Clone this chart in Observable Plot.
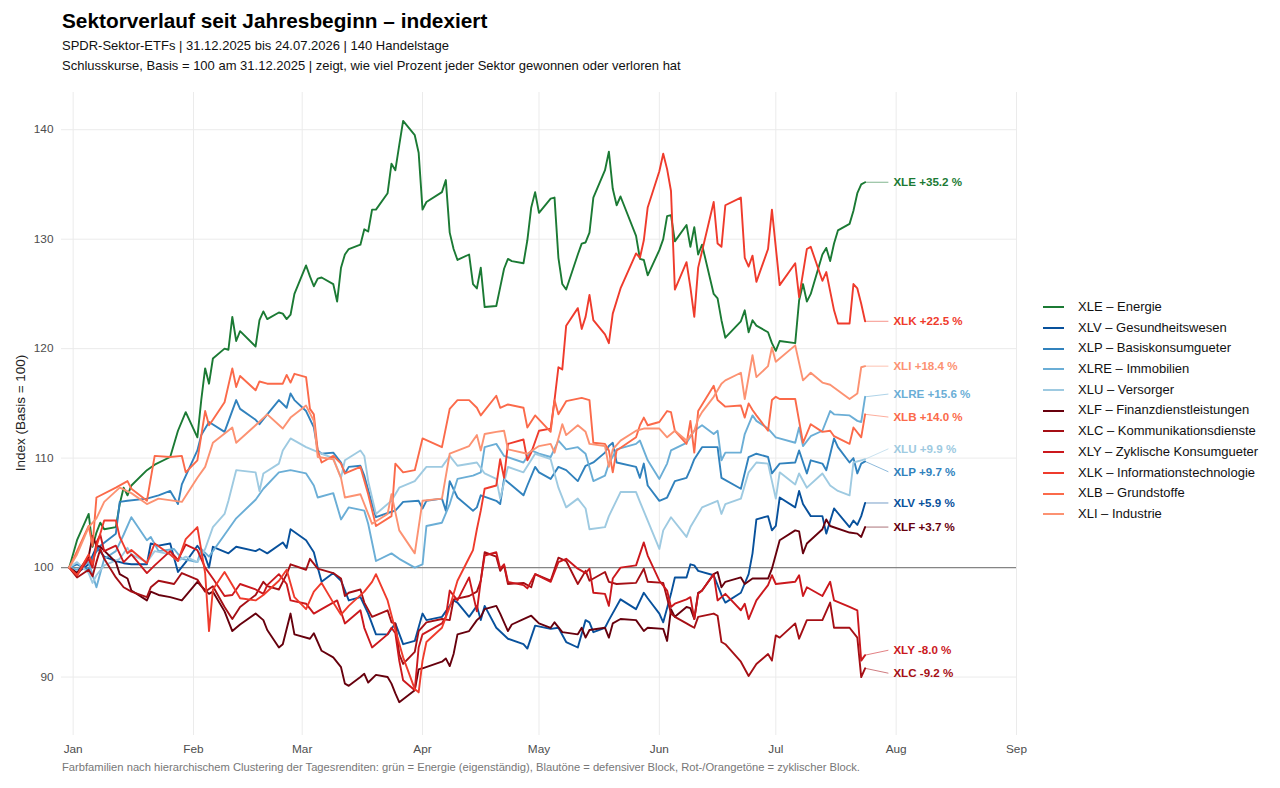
<!DOCTYPE html>
<html><head><meta charset="utf-8">
<script src="https://cdn.jsdelivr.net/npm/d3@7"></script>
<script src="https://cdn.jsdelivr.net/npm/@observablehq/plot@0.6"></script>
<style>
body{margin:0;background:#fff;font-family:"Liberation Sans",Arial,Helvetica,sans-serif;color:#111;}
#wrap{position:relative;width:1280px;height:788px;overflow:hidden;}
#title{position:absolute;left:62px;top:8px;font-size:20.8px;line-height:25px;font-weight:bold;color:#000;white-space:nowrap;}
#sub{position:absolute;left:62px;top:36px;font-size:13px;line-height:20px;color:#111;white-space:nowrap;}
#chart{position:absolute;left:0;top:80px;}
#ylab{position:absolute;left:20px;top:413px;transform:translate(-50%,-50%) rotate(-90deg);font-size:13.5px;color:#222;white-space:nowrap;}
#legend{position:absolute;left:1043px;top:297px;font-size:13px;color:#111;}
#legend .row{height:20.7px;line-height:20.7px;white-space:nowrap;display:flex;align-items:center;}
#legend .sw{display:inline-block;width:21px;height:0;border-top:2px solid;margin-right:14px;}
#caption{position:absolute;left:62px;top:761px;font-size:11.2px;color:#777;white-space:nowrap;}
</style></head>
<body><div id="wrap">
<div id="title">Sektorverlauf seit Jahresbeginn – indexiert</div>
<div id="sub">SPDR-Sektor-ETFs | 31.12.2025 bis 24.07.2026 | 140 Handelstage<br>Schlusskurse, Basis = 100 am 31.12.2025 | zeigt, wie viel Prozent jeder Sektor gewonnen oder verloren hat</div>
<div id="chart"></div>
<div id="ylab">Index (Basis = 100)</div>
<div id="legend"></div>
<div id="caption">Farbfamilien nach hierarchischem Clustering der Tagesrenditen: grün = Energie (eigenständig), Blautöne = defensiver Block, Rot-/Orangetöne = zyklischer Block.</div>
</div>
<script>
const tickers = ["XLE","XLV","XLP","XLRE","XLU","XLF","XLC","XLY","XLK","XLB","XLI"];
const names = ["Energie","Gesundheitswesen","Basiskonsumgueter","Immobilien","Versorger","Finanzdienstleistungen","Kommunikationsdienste","Zyklische Konsumgueter","Informationstechnologie","Grundstoffe","Industrie"];
const colors = ["#1b7a34","#08519c","#3182bd","#6baed6","#9ecae1","#67000d","#a50f15","#cb181d","#ef3b2c","#fb6a4a","#fc9272"];
const yTicks = [90,100,110,120,130,140];

const XLE = [["12-31",100],["01-02",102.5],["01-05",104.9],["01-06",101.9],["01-07",103.2],["01-08",104.1],["01-09",103.5],["01-12",103.7],["01-13",105.8],["01-14",107.3],["01-15",106.6],["01-16",107.5],["01-20",108.9],["01-22",109.4],["01-26",110.1],["01-28",112.5],["01-30",114.2],["02-02",111.9],["02-03",115.3],["02-04",118.2],["02-05",116.8],["02-06",119.1],["02-09",120],["02-10",119.9],["02-11",122.9],["02-12",120.7],["02-13",121.6],["02-17",120.2],["02-18",122.6],["02-19",123.4],["02-20",122.7],["02-23",123.3],["02-24",123.2],["02-25",122.7],["02-26",123.1],["02-27",125],["03-02",127.6],["03-03",126.6],["03-04",125.7],["03-05",126.4],["03-06",126.5],["03-09",125.9],["03-10",124.3],["03-11",127.4],["03-12",128.6],["03-13",129.1],["03-16",129.5],["03-17",130.9],["03-18",130.7],["03-19",132.7],["03-20",132.7],["03-23",134.2],["03-24",136.9],["03-25",136.3],["03-26",138.6],["03-27",140.8],["03-30",139.5],["03-31",137.9],["04-01",132.7],["04-02",133.4],["04-06",134.3],["04-07",135.4],["04-08",130.6],["04-09",129.1],["04-10",128.1],["04-13",128.6],["04-14",125.9],["04-15",125.5],["04-16",127.4],["04-17",123.8],["04-20",123.9],["04-21",125.6],["04-22",127.3],["04-23",128.2],["04-24",128],["04-27",127.8],["04-28",129.9],["04-29",132.9],["04-30",134.3],["05-01",132.4],["05-04",133.7],["05-05",133.8],["05-06",128.3],["05-07",125.9],["05-08",125.4],["05-11",128.6],["05-12",129.6],["05-13",129.7],["05-14",130.6],["05-15",133.8],["05-18",136.3],["05-19",138],["05-20",134.6],["05-21",133.1],["05-22",133.9],["05-26",130.3],["05-27",128.2],["05-28",128.1],["05-29",126.7],["06-01",129],["06-02",130],["06-03",132.1],["06-04",132.2],["06-05",129.8],["06-08",131.3],["06-09",129.3],["06-10",131.1],["06-11",128.6],["06-12",129.5],["06-15",125],["06-16",124.6],["06-17",122.6],["06-18",121],["06-22",122.5],["06-23",123.5],["06-24",121.5],["06-25",122.6],["06-26",122.1],["06-29",121.5],["06-30",120.5],["07-01",119.8],["07-02",120.7],["07-06",120.5],["07-07",124.4],["07-08",125.9],["07-09",124.3],["07-10",125],["07-13",128.6],["07-14",129.2],["07-15",128],["07-16",129.6],["07-17",130.8],["07-20",131.4],["07-21",132.6],["07-22",134.2],["07-23",135],["07-24",135.2]];

const XLV = [["12-31",100],["01-02",99.5],["01-05",100.3],["01-07",101.9],["01-09",101],["01-12",100.6],["01-14",100.4],["01-16",100.3],["01-20",100.3],["01-21",102.2],["01-23",102],["01-26",102.2],["01-28",99.6],["01-30",100.5],["02-02",102],["02-04",101],["02-05",100],["02-06",101.9],["02-10",101.3],["02-12",101.9],["02-17",101.5],["02-18",101.7],["02-20",101.3],["02-24",102.3],["02-25",101.8],["02-26",103.5],["03-02",102.5],["03-04",101.4],["03-05",100],["03-06",98.7],["03-09",99.5],["03-11",98.8],["03-13",97],["03-16",97.3],["03-18",95.8],["03-20",93.9],["03-23",93.9],["03-25",94.9],["03-27",93],["03-30",93.3],["04-01",95.8],["04-02",95.2],["04-06",95.5],["04-09",97],["04-10",96.8],["04-13",95.5],["04-15",96.5],["04-16",95.2],["04-17",96.5],["04-20",94.5],["04-23",93.5],["04-27",93],["04-28",92.6],["04-30",94.7],["05-04",94.4],["05-06",94.5],["05-08",93.2],["05-11",92.7],["05-13",95.2],["05-14",95],["05-15",94.1],["05-18",94.5],["05-19",95.2],["05-22",97.1],["05-26",96.2],["05-28",97.7],["05-29",97.2],["06-01",95.8],["06-02",95],["06-04",97.6],["06-05",99.1],["06-08",99.1],["06-09",100.3],["06-10",100.2],["06-11",99.7],["06-15",99.3],["06-17",97.5],["06-18",96.8],["06-22",97.7],["06-24",99.4],["06-25",101.3],["06-26",104.4],["06-29",104.7],["06-30",103.4],["07-01",103.8],["07-02",106.4],["07-06",105.5],["07-07",107],["07-08",105.8],["07-10",104.7],["07-13",104.7],["07-14",103.1],["07-16",105.4],["07-20",103.7],["07-21",104.3],["07-22",103.9],["07-23",104.7],["07-24",105.9]];

const XLP = [["12-31",100],["01-02",100.3],["01-05",99.8],["01-06",100.9],["01-08",102],["01-12",103.1],["01-13",106],["01-15",106.1],["01-20",106.3],["01-23",106.6],["01-26",107],["01-28",105.8],["01-29",107.6],["02-02",110.7],["02-03",112.1],["02-05",113.3],["02-09",112.4],["02-12",115.3],["02-13",114.5],["02-17",113.5],["02-18",113.1],["02-20",114],["02-23",115.3],["02-25",114.6],["02-26",115.9],["02-27",115.3],["03-02",114.3],["03-04",112.8],["03-05",110.7],["03-06",110.4],["03-09",110.5],["03-11",109.6],["03-12",108.6],["03-13",109.2],["03-16",109.3],["03-17",108.4],["03-19",105.8],["03-20",104.6],["03-24",105.1],["03-25",105.2],["03-27",106],["03-31",106.1],["04-01",105.4],["04-02",106.1],["04-06",106.3],["04-07",105.2],["04-08",107.9],["04-10",106.4],["04-14",105.2],["04-15",105.5],["04-16",106.6],["04-20",106.1],["04-21",105.8],["04-22",108.1],["04-27",106.6],["04-28",107.5],["04-30",109.2],["05-01",108.7],["05-04",108.1],["05-06",109.2],["05-08",108.9],["05-11",107.9],["05-13",109.3],["05-15",109.6],["05-18",110.5],["05-19",111.1],["05-20",111.4],["05-21",109.6],["05-26",109.2],["05-27",108.2],["05-28",109.5],["05-29",107.5],["06-01",106.1],["06-03",106.4],["06-05",107.9],["06-08",108.2],["06-09",109],["06-10",109.9],["06-12",111],["06-16",111],["06-17",108.2],["06-22",107.2],["06-24",110.1],["06-26",110.4],["06-29",110.1],["06-30",108.6],["07-02",109.5],["07-06",109.6],["07-07",110.7],["07-09",108.6],["07-10",109.8],["07-13",109.5],["07-14",108.9],["07-16",111.8],["07-17",111],["07-20",109.6],["07-21",110],["07-22",108.6],["07-23",109.5],["07-24",109.7]];

const XLRE = [["12-31",100],["01-02",99.8],["01-05",100.5],["01-07",98.2],["01-09",100.8],["01-12",101.5],["01-14",103],["01-16",104.6],["01-20",102.5],["01-21",102.8],["01-23",101.5],["01-27",101.7],["01-29",100.8],["02-02",100.5],["02-03",101.7],["02-05",101],["02-09",103],["02-12",104.5],["02-17",106.2],["02-19",107.2],["02-23",108.7],["02-26",108.9],["03-02",108.6],["03-04",107.5],["03-05",106.4],["03-09",106.8],["03-11",104.4],["03-13",105.5],["03-17",105.2],["03-18",104],["03-20",100.6],["03-24",101.3],["03-26",100.8],["03-30",100],["04-01",100.3],["04-02",103.8],["04-06",104.1],["04-08",105.8],["04-10",108.1],["04-14",108.4],["04-16",108.7],["04-17",111],["04-20",111.3],["04-22",110.2],["04-27",109.6],["04-29",110.7],["05-01",110.4],["05-04",110.1],["05-06",111.6],["05-08",110.8],["05-11",111],["05-13",110.4],["05-15",107.9],["05-18",108.4],["05-19",109.5],["05-21",110.8],["05-26",111.3],["05-27",111.6],["05-29",109.8],["06-01",108.1],["06-03",109.5],["06-04",110.7],["06-08",111.4],["06-10",112.5],["06-12",113],["06-15",112.2],["06-16",112.5],["06-17",109.8],["06-18",110.5],["06-22",110.5],["06-23",112.2],["06-25",113.9],["06-26",113.4],["06-29",112.7],["07-01",111.9],["07-06",111.4],["07-07",112.8],["07-08",111.1],["07-10",112],["07-13",112.5],["07-15",114.3],["07-16",114],["07-20",113.9],["07-22",113.4],["07-23",113.3],["07-24",115.6]];

const XLU = [["12-31",100],["01-02",100.5],["01-05",99.5],["01-06",98.6],["01-07",99.3],["01-09",100.2],["01-13",100.8],["01-15",101.8],["01-16",101.2],["01-20",100.5],["01-22",101.5],["01-26",101.2],["01-28",100.6],["01-30",101],["02-02",100.5],["02-04",101.7],["02-06",103.7],["02-09",104.9],["02-10",106.1],["02-12",108.9],["02-17",108.7],["02-18",107],["02-19",108.6],["02-23",109.5],["02-24",110.7],["02-26",111.8],["03-02",111],["03-04",110.7],["03-06",110.4],["03-09",110],["03-11",108.2],["03-12",109.8],["03-16",110.7],["03-17",110.2],["03-18",107.9],["03-20",104.9],["03-24",106.1],["03-26",107.3],["03-30",107.9],["04-02",109.2],["04-06",109.2],["04-08",110.2],["04-10",109.3],["04-15",109.6],["04-17",108.6],["04-20",108.1],["04-21",106.3],["04-23",109.2],["04-27",108.7],["04-30",110.4],["05-04",109.9],["05-06",107.3],["05-08",105.5],["05-11",106.3],["05-13",105.4],["05-14",103.5],["05-18",103.7],["05-19",104.7],["05-22",106.9],["05-26",106.9],["05-27",106],["05-29",104.3],["06-01",101.7],["06-02",103.4],["06-04",104.6],["06-08",102.8],["06-09",103.7],["06-12",105.5],["06-16",106.1],["06-17",104.9],["06-18",105.8],["06-22",106.3],["06-24",108.7],["06-26",109.6],["06-29",109.5],["07-01",106.3],["07-02",108.7],["07-06",107.6],["07-07",108.6],["07-09",107.3],["07-13",108.6],["07-15",107.5],["07-17",107],["07-20",106.6],["07-21",109.6],["07-23",109.8],["07-24",109.9]];

const XLF = [["12-31",100],["01-02",99.5],["01-05",101],["01-06",102.9],["01-07",102],["01-08",101.9],["01-12",100.5],["01-13",99.4],["01-15",99],["01-16",97.9],["01-20",97],["01-21",97.8],["01-23",97.5],["01-26",97.3],["01-29",97],["02-02",98.7],["02-03",98.3],["02-05",97.6],["02-06",97.8],["02-09",96],["02-11",94.2],["02-13",94.8],["02-17",95.8],["02-19",95.2],["02-20",94.3],["02-23",92.7],["02-24",93],["02-26",95.8],["02-27",93.9],["03-03",93.5],["03-04",94],["03-06",92.4],["03-09",91.8],["03-11",90.9],["03-12",89.4],["03-13",89.2],["03-16",90],["03-17",90.3],["03-18",89.5],["03-20",90.2],["03-23",90],["03-24",89.4],["03-25",88.5],["03-26",87.7],["03-30",88.8],["03-31",90.7],["04-01",90.8],["04-06",91.4],["04-07",91.7],["04-08",91],["04-09",92.1],["04-10",93.9],["04-13",94.2],["04-15",95.2],["04-16",95.5],["04-17",96.2],["04-20",96.5],["04-21",95.8],["04-23",94.2],["04-24",94.8],["04-27",95.3],["04-29",95.6],["05-01",94.9],["05-04",94.5],["05-05",95],["05-07",94.1],["05-11",93.9],["05-12",94.5],["05-13",93.6],["05-14",94.3],["05-18",94.5],["05-19",93.6],["05-20",94.9],["05-22",95.3],["05-26",95.2],["05-28",94.2],["05-29",94.5],["06-02",94.4],["06-03",93.3],["06-04",96.2],["06-05",95.5],["06-08",96.4],["06-09",96.3],["06-10",95.3],["06-11",97.7],["06-12",97.9],["06-15",99.4],["06-16",99.6],["06-17",98.2],["06-18",98.7],["06-22",99.1],["06-23",98.5],["06-25",99],["06-29",99],["06-30",99.9],["07-02",102.5],["07-06",103.4],["07-07",103.3],["07-08",101.3],["07-09",102.2],["07-13",103.5],["07-14",104.4],["07-15",103.8],["07-20",103.2],["07-22",103.1],["07-23",102.8],["07-24",103.7]];

const XLC = [["12-31",100],["01-02",99.1],["01-05",99.8],["01-06",99.2],["01-07",100.5],["01-08",101.7],["01-09",100.8],["01-12",99.1],["01-14",98.2],["01-16",97.8],["01-20",97.3],["01-21",98.2],["01-23",98.8],["01-27",98.5],["01-29",99.5],["02-02",98.9],["02-04",97.8],["02-06",98.3],["02-09",96.4],["02-11",95.3],["02-13",96.4],["02-17",97.5],["02-19",98.7],["02-20",98.3],["02-23",98],["02-25",99.4],["02-26",100.3],["03-02",99.8],["03-03",100.8],["03-05",99.9],["03-09",99.5],["03-11",99],["03-12",97.4],["03-13",97.7],["03-16",98],["03-17",96.8],["03-19",95.5],["03-23",96.1],["03-24",95],["03-25",94.9],["03-26",92.1],["03-27",91.2],["03-30",92.3],["03-31",94.2],["04-02",95],["04-06",95.3],["04-08",95.2],["04-09",97.1],["04-13",97.4],["04-15",97.8],["04-16",98.8],["04-17",101.4],["04-20",101],["04-21",99.7],["04-22",100.2],["04-23",98.5],["04-27",98.6],["04-29",98.2],["04-30",99.4],["05-04",98.8],["05-06",100.9],["05-08",100.6],["05-11",98.5],["05-13",99.7],["05-14",98.8],["05-18",99.6],["05-19",98.7],["05-21",98.5],["05-26",98.6],["05-28",99.9],["05-29",98.7],["06-02",98.6],["06-04",95.8],["06-05",95.5],["06-08",94.9],["06-09",94.7],["06-10",94.5],["06-11",95.5],["06-15",95.8],["06-16",95.6],["06-17",93.2],["06-18",93],["06-22",91.4],["06-24",90.1],["06-26",91.2],["06-29",92.1],["06-30",91.5],["07-01",93.8],["07-02",93.6],["07-06",94.9],["07-07",93.5],["07-09",95.2],["07-13",95.2],["07-15",96.8],["07-16",94.5],["07-20",94.5],["07-22",93.6],["07-23",90],["07-24",90.8]];

const XLY = [["12-31",100],["01-02",99.3],["01-05",100.8],["01-06",100],["01-07",102.3],["01-08",103],["01-09",101.5],["01-12",102],["01-14",100.5],["01-16",101.2],["01-20",99.5],["01-22",100.2],["01-26",101.5],["01-28",100.7],["01-30",102.1],["02-02",101.6],["02-04",100],["02-06",99],["02-09",97.4],["02-11",97.5],["02-13",98.5],["02-17",98],["02-19",97.6],["02-20",98.4],["02-23",99.4],["02-25",98.5],["02-26",97],["03-02",96.7],["03-04",95.8],["03-06",96.2],["03-10",97],["03-12",94.9],["03-16",96.1],["03-17",94.5],["03-19",92.7],["03-23",93.9],["03-24",94.5],["03-25",94],["03-26",91.5],["03-27",89.7],["03-30",88.8],["03-31",92.7],["04-01",93.9],["04-06",94.9],["04-07",95.5],["04-08",97.9],["04-10",97],["04-13",99.1],["04-15",96],["04-16",98.8],["04-17",101.1],["04-20",101.4],["04-21",99.9],["04-22",100.3],["04-23",98.7],["04-27",98.4],["04-28",98.1],["04-30",99.4],["05-04",98.7],["05-06",100.5],["05-08",100.8],["05-11",99.9],["05-13",99.5],["05-14",99.9],["05-15",97.7],["05-18",97.6],["05-19",96.5],["05-20",99],["05-22",100],["05-26",100.2],["05-28",102.3],["05-29",101.1],["06-01",98.8],["06-03",97.9],["06-04",96.4],["06-05",96.7],["06-08",97.1],["06-09",97.3],["06-10",95.3],["06-11",97.6],["06-12",97.9],["06-15",99.4],["06-16",97],["06-18",97.6],["06-22",96.1],["06-23",96.7],["06-24",95.3],["06-26",97],["06-29",98.4],["06-30",99.3],["07-01",98.5],["07-06",98.7],["07-07",99.3],["07-08",97.4],["07-09",98.2],["07-13",97.4],["07-15",98.7],["07-16",97],["07-20",96.4],["07-22",96.1],["07-23",91.5],["07-24",92]];

const XLK = [["12-31",100],["01-02",99.3],["01-05",101.2],["01-06",100.3],["01-07",101.9],["01-09",104.3],["01-12",104.3],["01-13",102.8],["01-15",101.3],["01-16",101.6],["01-20",100.4],["01-22",102.2],["01-26",101.2],["01-28",100.6],["01-30",102.6],["02-02",103.7],["02-04",99.5],["02-05",94.2],["02-06",98],["02-09",99.6],["02-11",98.4],["02-13",97.2],["02-17",97],["02-19",97.5],["02-23",98.8],["02-25",99.8],["02-27",97.3],["03-02",96.2],["03-04",97.8],["03-06",98.6],["03-09",96.8],["03-11",95.7],["03-13",96.5],["03-17",97.8],["03-19",98.7],["03-20",99.4],["03-23",97],["03-25",94.3],["03-27",91.8],["03-30",88.9],["03-31",88.6],["04-01",91.5],["04-02",93.2],["04-06",94.5],["04-08",96.4],["04-10",98.8],["04-13",100.9],["04-14",101.6],["04-15",103.5],["04-16",105.2],["04-17",107.2],["04-20",107.5],["04-21",109.9],["04-22",108.2],["04-23",111.3],["04-27",111.7],["04-28",109.8],["04-29",110.5],["05-01",112.5],["05-04",112.7],["05-05",115.3],["05-06",118.3],["05-07",118.1],["05-08",122.1],["05-11",123.7],["05-12",121.8],["05-13",122.9],["05-14",124.9],["05-15",122.6],["05-18",121.3],["05-19",120.5],["05-20",123.2],["05-22",125.5],["05-26",128.7],["05-27",128.3],["05-28",129.9],["05-29",132.9],["06-01",136.2],["06-02",137.8],["06-03",136.4],["06-04",134.4],["06-05",125.4],["06-08",127.9],["06-09",125.6],["06-10",122.9],["06-11",127.4],["06-15",133.4],["06-16",129.6],["06-17",129.3],["06-18",133.1],["06-22",133.8],["06-23",128.3],["06-24",127.5],["06-25",128.5],["06-26",126.1],["06-29",129.1],["06-30",132.7],["07-02",125.8],["07-06",127.8],["07-07",124.7],["07-09",129.1],["07-10",129.3],["07-13",126.2],["07-14",127],["07-16",123.5],["07-17",122.3],["07-20",122.3],["07-21",125.9],["07-22",125.5],["07-23",124.1],["07-24",122.5]];

const XLB = [["12-31",100],["01-02",101.5],["01-05",103.8],["01-06",102],["01-07",106.4],["01-12",107.3],["01-15",107.9],["01-16",107.2],["01-20",106.1],["01-22",110.2],["01-26",110.1],["01-29",110.2],["01-30",108.7],["02-02",109.8],["02-04",114.3],["02-05",113],["02-06",113.5],["02-09",115.1],["02-11",118.2],["02-12",116.5],["02-13",117.5],["02-17",116.2],["02-18",117],["02-20",116.8],["02-24",116.8],["02-25",117.6],["02-26",116.9],["02-27",117.7],["03-02",117.4],["03-03",114.5],["03-04",114],["03-05",110.7],["03-06",109.6],["03-09",110.2],["03-11",109.5],["03-12",108.6],["03-16",109.2],["03-18",106.7],["03-20",103.8],["03-24",104.7],["03-25",109.5],["03-27",108.7],["03-30",108.9],["04-01",111.8],["04-06",111],["04-08",114.5],["04-10",115.3],["04-13",115.3],["04-15",114.6],["04-16",113.9],["04-20",115.7],["04-21",114.6],["04-23",114.9],["04-27",114.6],["04-28",112.8],["04-30",113.9],["05-04",112.4],["05-05",115.3],["05-06",114],["05-08",115.2],["05-12",115.5],["05-14",115.3],["05-15",111.4],["05-18",111.3],["05-19",110.7],["05-20",108.7],["05-21",110.7],["05-26",111.9],["05-27",113],["05-28",113.7],["05-29",113],["06-01",113.3],["06-03",114.3],["06-04",114.2],["06-05",112.5],["06-08",111.3],["06-09",113.4],["06-10",110.5],["06-11",114.3],["06-15",116.6],["06-16",115.3],["06-18",114.7],["06-22",114.8],["06-23",113.7],["06-24",115],["06-25",114.4],["06-26",113.9],["06-29",112.5],["06-30",115.3],["07-01",115.6],["07-02",115.4],["07-06",115.4],["07-07",113.4],["07-08",111.4],["07-10",113.1],["07-13",112.4],["07-15",112.5],["07-16",112],["07-20",111.3],["07-21",112.8],["07-23",111.9],["07-24",114]];

const XLI = [["12-31",100],["01-02",101.2],["01-05",103.7],["01-07",104.5],["01-09",106],["01-13",107.3],["01-16",106.8],["01-20",105.8],["01-23",106.3],["01-29",106],["02-02",108.2],["02-04",109.2],["02-06",111.4],["02-11",112.8],["02-12",111.4],["02-17",113],["02-20",114],["02-24",112.7],["02-26",113.7],["03-02",114.8],["03-04",113.4],["03-05",110.1],["03-09",109.9],["03-11",108.2],["03-12",106.4],["03-16",106.7],["03-19",104],["03-23",104.9],["03-24",106.7],["03-26",103.4],["03-30",101.3],["04-01",106.1],["04-06",106.3],["04-08",110.4],["04-13",111.1],["04-15",112.1],["04-16",110.7],["04-17",112.2],["04-20",112.4],["04-22",112.5],["04-23",110.8],["04-28",110.4],["05-01",111.1],["05-04",111.3],["05-05",110.5],["05-07",113.1],["05-08",112.1],["05-11",113],["05-13",112.4],["05-14",111.3],["05-18",111.1],["05-19",109.2],["05-20",110.8],["05-22",111.6],["05-26",112.5],["05-28",112.7],["06-01",112.7],["06-03",111.9],["06-05",112.5],["06-08",111.6],["06-10",112.5],["06-11",113.6],["06-12",114.2],["06-15",115.6],["06-17",116.8],["06-18",117.1],["06-22",117.8],["06-23",115.4],["06-25",119.4],["06-26",117.4],["06-29",118.4],["06-30",120.1],["07-01",118.8],["07-06",120.3],["07-07",118.7],["07-08",117.1],["07-10",117.8],["07-13",116.9],["07-15",116.7],["07-20",115.4],["07-22",115.9],["07-23",118.3],["07-24",118.4]];

const seriesData = [XLE, XLV, XLP, XLRE, XLU, XLF, XLC, XLY, XLK, XLB, XLI];

const parse = s => s === "12-31" ? new Date(Date.UTC(2025, 11, 31)) : new Date(`2026-${s}T00:00:00Z`);
const rows = [];
tickers.forEach((t, i) => seriesData[i].forEach(([d, v]) => rows.push({ticker: t, date: parse(d), value: v})));

// end labels, dodged vertically
const ends = tickers.map((t, i) => {
  const s = seriesData[i];
  const [d, v] = s[s.length - 1];
  return {ticker: t, date: parse(d), value: v, ly: v};
});
const gap = 2.1;
const sorted = ends.slice().sort((a, b) => b.value - a.value);
for (let it = 0; it < 200; it++) {
  for (let k = 0; k < sorted.length - 1; k++) {
    const a = sorted[k], b = sorted[k + 1];
    if (a.ly - b.ly < gap) {
      const mid = (a.ly + b.ly) / 2;
      a.ly = mid + gap / 2; b.ly = mid - gap / 2;
    }
  }
}
const labelDate = new Date(Date.UTC(2026, 6, 30));
const fmt = d => `${d.ticker} ${d.value >= 100 ? "+" : "-"}${Math.abs(d.value - 100).toFixed(1)} %`;

const months = d3.utcMonth.range(new Date(Date.UTC(2026, 0, 1)), new Date(Date.UTC(2026, 8, 2)));

const chart = Plot.plot({
  width: 1280, height: 680,
  marginLeft: 61, marginRight: 264, marginTop: 12, marginBottom: 25,
  style: {fontFamily: '"Liberation Sans", Arial, sans-serif', fontSize: "11.8px", color: "#4d4d4d", background: "transparent", overflow: "visible"},
  x: {type: "utc", domain: [new Date(Date.UTC(2025, 11, 29)), new Date(Date.UTC(2026, 8, 1))], ticks: months, tickFormat: d3.utcFormat("%b"), label: null, tickSize: 0, tickPadding: 9},
  y: {domain: [84.66, 143.4], ticks: yTicks, label: null, tickSize: 0, tickPadding: 8},
  color: {domain: tickers, range: colors},
  marks: [
    Plot.ruleX(months, {stroke: "#ebebeb", strokeWidth: 1}),
    Plot.ruleY(yTicks, {stroke: "#ebebeb", strokeWidth: 1}),
    Plot.ruleY([100], {stroke: "#858585", strokeWidth: 1.3}),
    Plot.line(rows, {x: "date", y: "value", z: "ticker", stroke: "ticker", strokeWidth: 1.9, strokeLinejoin: "round"}),
    Plot.link(ends, {x1: "date", y1: "value", x2: () => labelDate, y2: "ly", stroke: "ticker", strokeOpacity: 0.55, strokeWidth: 1}),
    Plot.text(ends, {x: () => labelDate, y: "ly", text: fmt, fill: "ticker", dx: 5, textAnchor: "start", fontWeight: "bold", fontSize: 11.6})
  ]
});
document.getElementById("chart").appendChild(chart);

const legend = document.getElementById("legend");
tickers.forEach((t, i) => {
  const row = document.createElement("div");
  row.className = "row";
  const sw = document.createElement("span");
  sw.className = "sw";
  sw.style.borderTopColor = colors[i];
  row.appendChild(sw);
  row.appendChild(document.createTextNode(`${t} – ${names[i]}`));
  legend.appendChild(row);
});
</script>
</body></html>
